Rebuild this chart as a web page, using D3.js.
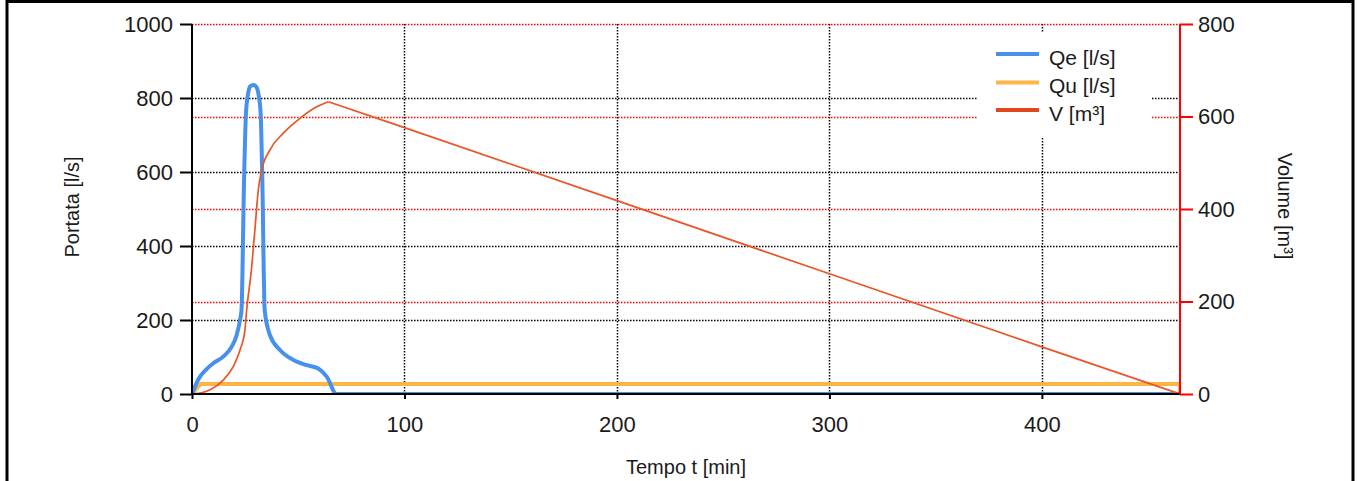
<!DOCTYPE html>
<html>
<head>
<meta charset="utf-8">
<script src="https://cdn.jsdelivr.net/npm/d3@7"></script>
<style>
  html, body { margin: 0; padding: 0; background: #fff; }
  svg { display: block; font-family: "Liberation Sans", Arial, sans-serif; }
</style>
</head>
<body>
<svg id="chart" width="1359" height="481"></svg>
<script>
// ---- data ----
const qeTime = [0, 3, 7, 10, 14.7, 18.7, 21, 22.6, 23.3, 24.5, 25.4, 26.5, 27.5, 28.9, 30.3, 31.3, 32.3, 33.1, 34.2, 36.7, 41.4, 47.7, 54, 59.4, 63.4, 68, 70, 465];
const qeValues = [0, 40, 68, 83, 101, 128, 159, 200, 227, 578, 759, 815, 832, 835, 830, 810, 759, 578, 227, 159, 119, 92, 78, 69, 47, 0, 0, 0];

const quTime = [0, 4, 465, 465];
const quValues = [0, 27, 27, 0];

const vTime = [0, 5, 8.5, 14.7, 19.4, 22.6, 24.9, 25.7, 28.1, 29.6, 31.2, 32.8, 36.7, 43, 50.8, 58.7, 64.2, 100, 200, 300, 400, 465];
const vValues = [0, 3, 9, 30, 59, 95, 138, 180, 275, 355, 441, 484, 528, 564, 596, 621, 632, 576, 418, 260, 102, 0];

const xTicks = [0, 100, 200, 300, 400];
const yLeftTicks = [0, 200, 400, 600, 800, 1000];
const yRightTicks = [0, 200, 400, 600, 800];
const legendLabels = ["Qe [l/s]", "Qu [l/s]", "V [m³]"];
const xTitle = "Tempo t [min]";
const yLeftTitle = "Portata [l/s]";
const yRightTitle = "Volume [m³]";

// ---- layout ----
const colors = { qe: "#4790ec", qu: "#ffb446", v: "#ea5426" };
const pLeft = 192, pRight = 1180, pTop = 24, pBottom = 394;

const svg = d3.select("#chart");

const x = d3.scaleLinear().domain([0, 465]).range([pLeft, pRight]);
const yL = d3.scaleLinear().domain([0, 1000]).range([pBottom, pTop]);
const yR = d3.scaleLinear().domain([0, 800]).range([pBottom, pTop]);

// outer frame
svg.append("rect").attr("x", 7).attr("y", 1.5).attr("width", 1346).attr("height", 500)
  .attr("fill", "none").attr("stroke", "#000").attr("stroke-width", 3);

// grids
const dot = "1.5,1.5";
const grid = svg.append("g");
grid.selectAll(".gv").data(xTicks.filter(d => d > 0)).enter().append("line")
  .attr("x1", d => Math.round(x(d)) + 0.5).attr("x2", d => Math.round(x(d)) + 0.5)
  .attr("y1", pTop).attr("y2", pBottom)
  .attr("stroke", "#000").attr("stroke-width", 1.5).attr("stroke-dasharray", dot);
grid.selectAll(".gl").data(yLeftTicks.filter(d => d > 0 && d < 1000)).enter().append("line")
  .attr("x1", pLeft).attr("x2", pRight)
  .attr("y1", d => Math.round(yL(d)) + 0.5).attr("y2", d => Math.round(yL(d)) + 0.5)
  .attr("stroke", "#000").attr("stroke-width", 1.5).attr("stroke-dasharray", dot);
grid.selectAll(".gr").data(yRightTicks.filter(d => d > 0)).enter().append("line")
  .attr("x1", pLeft).attr("x2", pRight)
  .attr("y1", d => Math.round(yR(d)) + 0.5).attr("y2", d => Math.round(yR(d)) + 0.5)
  .attr("stroke", "#ff0000").attr("stroke-width", 1.5).attr("stroke-dasharray", dot);

// legend background (hides grid)
const lg = svg.append("g");
lg.append("rect").attr("x", 978).attr("y", 33).attr("width", 174).attr("height", 105).attr("fill", "#fff");
const legendColors = [colors.qe, colors.qu, "#e0481c"];
const legendY = [54, 82.5, 110];
legendLabels.forEach((lab, i) => {
  lg.append("line").attr("x1", 996).attr("x2", 1039).attr("y1", legendY[i]).attr("y2", legendY[i])
    .attr("stroke", legendColors[i]).attr("stroke-width", 4);
  lg.append("text").attr("x", 1049).attr("y", legendY[i] + 3).attr("dominant-baseline", "central")
    .attr("font-size", 21).attr("fill", "#1a1a1a").text(lab);
});

// clip for series
svg.append("clipPath").attr("id", "clip").append("rect")
  .attr("x", pLeft).attr("y", pTop - 10).attr("width", pRight - pLeft).attr("height", pBottom - pTop + 10);

const series = svg.append("g").attr("clip-path", "url(#clip)");

// Qu
const quData = quTime.map((t, i) => [t, quValues[i]]);
series.append("path").datum(quData)
  .attr("d", d3.line().x(d => x(d[0])).y(d => yL(d[1])))
  .attr("fill", "none").attr("stroke", colors.qu).attr("stroke-width", 4).attr("stroke-linejoin", "round");

// Qe
const qeData = qeTime.map((t, i) => [t, qeValues[i]]);
series.append("path").datum(qeData)
  .attr("d", d3.line().curve(d3.curveMonotoneX).x(d => x(d[0])).y(d => yL(d[1])))
  .attr("fill", "none").attr("stroke", colors.qe).attr("stroke-width", 4).attr("stroke-linejoin", "round");

// V: smooth rise up to the peak, straight emptying after
const vData = vTime.map((t, i) => [t, vValues[i]]);
const peakIdx = vValues.indexOf(d3.max(vValues));
series.append("path").datum(vData.slice(0, peakIdx + 1))
  .attr("d", d3.line().curve(d3.curveMonotoneX).x(d => x(d[0])).y(d => yR(d[1])))
  .attr("fill", "none").attr("stroke", colors.v).attr("stroke-width", 1.7);
series.append("path").datum(vData.slice(peakIdx))
  .attr("d", d3.line().x(d => x(d[0])).y(d => yR(d[1])))
  .attr("fill", "none").attr("stroke", colors.v).attr("stroke-width", 1.7);

// axes
const fs = 22;
const axL = svg.append("g").attr("transform", `translate(${pLeft},0)`)
  .call(d3.axisLeft(yL).tickValues(yLeftTicks).tickSize(12).tickPadding(7).tickFormat(d3.format("d")));
const axB = svg.append("g").attr("transform", `translate(0,${pBottom})`)
  .call(d3.axisBottom(x).tickValues(xTicks).tickSize(5).tickPadding(17).tickFormat(d3.format("d")));
const axR = svg.append("g").attr("transform", `translate(${pRight},0)`)
  .call(d3.axisRight(yR).tickValues(yRightTicks).tickSize(13).tickPadding(5).tickFormat(d3.format("d")));

axL.select(".domain").attr("stroke", "#000").attr("stroke-width", 2).attr("d", `M0,${pTop}V${pBottom}`);
axB.select(".domain").attr("stroke", "#000").attr("stroke-width", 2).attr("d", `M${pLeft},0H${pRight}`);
[axL, axB].forEach(a => {
  a.selectAll(".tick line").attr("stroke", "#000").attr("stroke-width", 2);
  a.selectAll(".tick text").attr("font-size", fs).attr("fill", "#1a1a1a").attr("font-family", "Liberation Sans, Arial, sans-serif");
});
axR.select(".domain").attr("stroke", "#ff0000").attr("stroke-width", 2).attr("d", `M0,${pTop}V${pBottom}`);
axR.selectAll(".tick line").attr("stroke", "#ff0000").attr("stroke-width", 2);
axR.selectAll(".tick text").attr("font-size", fs).attr("fill", "#1a1a1a").attr("font-family", "Liberation Sans, Arial, sans-serif");

// axis titles
svg.append("text").attr("x", 686).attr("y", 474).attr("text-anchor", "middle")
  .attr("font-size", 20).attr("fill", "#1a1a1a").text(xTitle);
svg.append("text").attr("transform", "translate(79,207) rotate(-90)").attr("text-anchor", "middle")
  .attr("font-size", 20).attr("fill", "#1a1a1a").text(yLeftTitle);
svg.append("text").attr("transform", "translate(1278,206) rotate(90)").attr("text-anchor", "middle")
  .attr("font-size", 20).attr("fill", "#1a1a1a").text(yRightTitle);
</script>
</body>
</html>
